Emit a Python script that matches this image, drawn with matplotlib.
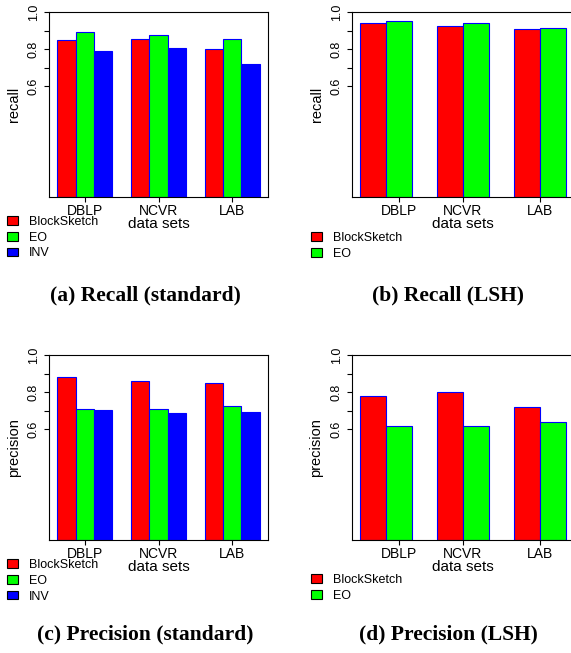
import matplotlib

matplotlib.use("Agg")
import matplotlib.pyplot as plt
from matplotlib.patches import Patch

plt.rcParams["font.family"] = "Liberation Sans"

# data
DATASETS = ["DBLP", "NCVR", "LAB"]
METHODS3 = ["BlockSketch", "EO", "INV"]
METHODS2 = ["BlockSketch", "EO"]
COLORS = {"BlockSketch": "#ff0000", "EO": "#00ff00", "INV": "#0000ff"}

recall_std_bs = [0.847, 0.856, 0.802]
recall_std_eo = [0.892, 0.877, 0.852]
recall_std_inv = [0.787, 0.807, 0.719]

recall_lsh_bs = [0.942, 0.923, 0.906]
recall_lsh_eo = [0.953, 0.942, 0.915]

prec_std_bs = [0.883, 0.858, 0.849]
prec_std_eo = [0.706, 0.706, 0.726]
prec_std_inv = [0.701, 0.688, 0.690]

prec_lsh_bs = [0.778, 0.798, 0.719]
prec_lsh_eo = [0.618, 0.618, 0.636]

YTICKS = [0.6, 0.7, 0.8, 0.9, 1.0]
YTICKLABELS = ["0.6", "", "0.8", "", "1.0"]

W, H = 571, 653
fig = plt.figure(figsize=(W / 100, H / 100), dpi=100)


def px_axes(left, top, right, bottom):
    return fig.add_axes([left / W, 1 - bottom / H, (right - left) / W, (bottom - top) / H])


def panel(ax, series, methods, ylabel, tick_pos, legend_xy, caption, caption_xy):
    n = len(methods)
    step = n + 1
    for s, (m, vals) in enumerate(zip(methods, series)):
        xs = [1 + g * step + s + 0.5 for g in range(len(vals))]
        ax.bar(xs, vals, width=1.0, color=COLORS[m], edgecolor="blue", linewidth=0.8)
    last = 1 + (len(DATASETS) - 1) * step + n
    pad = 0.04 * (last - 1)
    ax.set_xlim(1 - pad, last + pad)
    ax.set_ylim(0, 1)
    ax.set_yticks(YTICKS)
    ax.set_yticklabels(YTICKLABELS, rotation=90, va="center", fontsize=9)
    ax.set_xticks(tick_pos)
    ax.set_xticklabels(DATASETS, fontsize=10)
    ax.tick_params(axis="y", length=3.5, pad=3, width=0.8)
    ax.tick_params(axis="x", length=3.5, pad=1.5, width=0.8)
    for sp in ax.spines.values():
        sp.set_linewidth(0.8)
    ax.text(-35 / 219, 0.5, ylabel, transform=ax.transAxes, rotation=90,
            ha="center", va="center", fontsize=10.5)
    ax.set_xlabel("data sets", fontsize=11, labelpad=-1)
    handles = [Patch(facecolor=COLORS[m], edgecolor="black", linewidth=0.8) for m in methods]
    ax.legend(handles, methods, loc="upper left",
              bbox_to_anchor=(legend_xy[0] / W, 1 - legend_xy[1] / H),
              bbox_transform=fig.transFigure, frameon=False, borderpad=0,
              borderaxespad=0, handlelength=0.85, handleheight=0.65,
              handletextpad=0.9, labelspacing=0.3, fontsize=9)
    fig.text(caption_xy[0] / W, 1 - caption_xy[1] / H, caption, ha="center", va="center",
             fontsize=15.5, fontweight="bold", family="Liberation Serif")


ax_a = px_axes(49, 12, 268, 197)
panel(ax_a, [recall_std_bs, recall_std_eo, recall_std_inv], METHODS3, "recall",
      [2.5, 6.5, 10.5], (7, 216), "(a) Recall (standard)", (145, 295))

ax_b = px_axes(352, 12, 574, 197)
panel(ax_b, [recall_lsh_bs, recall_lsh_eo], METHODS2, "recall",
      [2.5, 5, 8], (311, 232), "(b) Recall (LSH)", (448, 295))

ax_c = px_axes(49, 355, 268, 540)
panel(ax_c, [prec_std_bs, prec_std_eo, prec_std_inv], METHODS3, "precision",
      [2.5, 6.5, 10.5], (7, 559), "(c) Precision (standard)", (145, 634))

ax_d = px_axes(352, 355, 574, 540)
panel(ax_d, [prec_lsh_bs, prec_lsh_eo], METHODS2, "precision",
      [2.5, 5, 8], (311, 574), "(d) Precision (LSH)", (448, 634))

fig.savefig("out.png", dpi=100)
